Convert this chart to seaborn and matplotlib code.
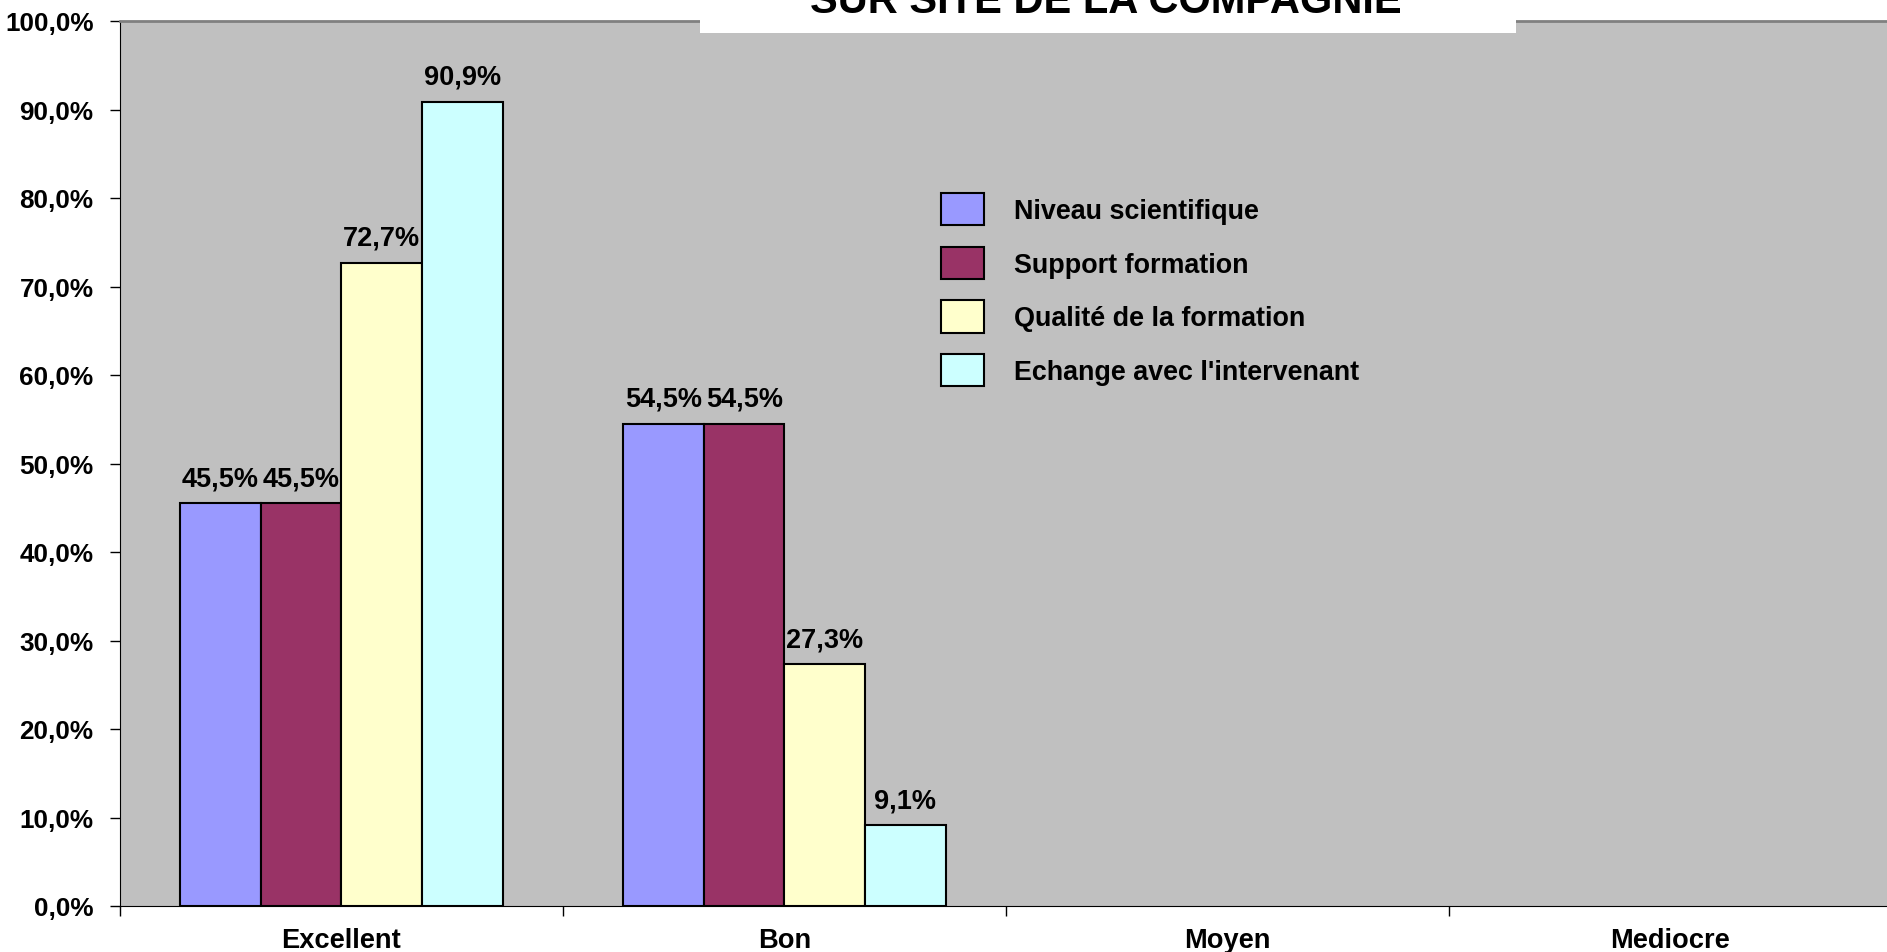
import numpy as np
import pandas as pd
import matplotlib
matplotlib.use("Agg")
import matplotlib.pyplot as plt
import seaborn as sns
from matplotlib.patches import Patch, Rectangle
from matplotlib.ticker import FuncFormatter

# data (percent)
categories = ["Excellent", "Bon", "Moyen", "Mediocre"]
series = ["Niveau scientifique", "Support formation",
          "Qualité de la formation", "Echange avec l'intervenant"]
niveau = [45.5, 54.5, np.nan, np.nan]
support = [45.5, 54.5, np.nan, np.nan]
qualite = [72.7, 27.3, np.nan, np.nan]
echange = [90.9, 9.1, np.nan, np.nan]
colors = ["#9999FF", "#993366", "#FFFFCC", "#CCFFFF"]
title = "SUR SITE DE LA COMPAGNIE"

df = pd.DataFrame({
    "categorie": categories * len(series),
    "serie": np.repeat(series, len(categories)),
    "valeur": niveau + support + qualite + echange,
})

plt.rcParams["font.family"] = ["Liberation Sans", "DejaVu Sans"]
plt.rcParams["font.weight"] = "bold"

W, H = 1887, 953
fig = plt.figure(figsize=(W / 100, H / 100), dpi=100)
ax = fig.add_axes([120 / W, 46 / H, (1892 - 120) / W, (907 - 22) / H])
ax.set_facecolor("#C0C0C0")

sns.barplot(data=df, x="categorie", y="valeur", hue="serie",
            order=categories, hue_order=series, palette=colors,
            width=0.728, gap=0, saturation=1, errorbar=None,
            edgecolor="black", linewidth=1.5, legend=False, ax=ax)

# value labels above the bars
for c in ax.containers:
    labels = ["" if np.isnan(v) else f"{v:.1f}%".replace(".", ",")
              for v in c.datavalues]
    ax.bar_label(c, labels=labels, padding=8.5, fontsize=19.5, fontweight="bold")

# axes
ax.set_xlim(-0.5, len(categories) - 0.5)
ax.set_ylim(0, 100)
ax.set_yticks(np.arange(0, 101, 10))
ax.yaxis.set_major_formatter(FuncFormatter(lambda v, p: f"{v:.1f}%".replace(".", ",")))
ax.tick_params(axis="y", direction="out", length=7, width=1, pad=12,
               labelsize=18.8, colors="black")
ax.set_xticks(np.arange(-0.5, len(categories)), minor=True)
ax.tick_params(axis="x", which="minor", direction="out", length=7, width=1)
ax.tick_params(axis="x", which="major", length=0, pad=15, labelsize=19.6)
ax.set_xlabel("")
ax.set_ylabel("")
for lbl in ax.get_xticklabels() + ax.get_yticklabels():
    lbl.set_fontweight("bold")

ax.spines["left"].set_color("black")
ax.spines["bottom"].set_color("black")
ax.spines["top"].set_color("#808080")
ax.spines["top"].set_linewidth(2)
ax.spines["right"].set_visible(False)

# legend
handles = [Patch(facecolor=col, edgecolor="black", linewidth=1.5) for col in colors]
ax.legend(handles, series, loc="upper left",
          bbox_to_anchor=(941 / W, 1 - 194 / H), bbox_transform=fig.transFigure,
          frameon=False, fontsize=19.4, borderpad=0, borderaxespad=0,
          handlelength=1.6, handleheight=1.46, handletextpad=1.1,
          labelspacing=0.8)

# white title box, partly cut at the top
fig.add_artist(Rectangle((700 / W, 1 - 34 / H), 816 / W, 34 / H,
                         transform=fig.transFigure, facecolor="white",
                         edgecolor="none", zorder=5))
fig.text(1106 / W, 1 - 13 / H, title, ha="center", va="baseline",
         fontsize=30, fontweight="bold", zorder=6)

fig.savefig("out.png", dpi=100)
